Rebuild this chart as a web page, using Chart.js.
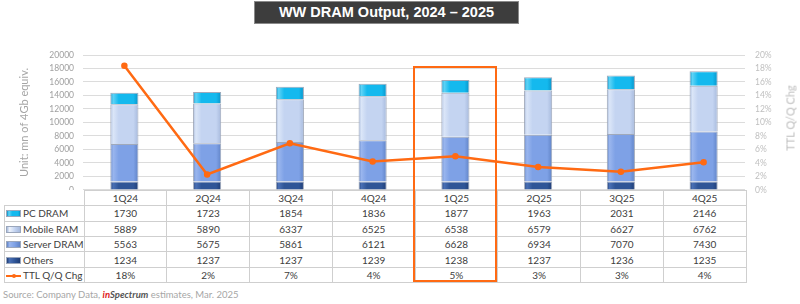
<!DOCTYPE html>
<html>
<head>
<meta charset="utf-8">
<script src="https://cdn.jsdelivr.net/npm/chart.js@4.4.1/dist/chart.umd.min.js"></script>
<style>
  body { margin: 0; background: #fff; }
  #wrap { position: relative; width: 800px; height: 304px; overflow: hidden; font-family: Lato, "Open Sans", sans-serif; }
  #title {
    position: absolute; left: 254px; top: 1px; width: 265px; height: 23px;
    background: #3d3d3d; border: 1px solid #8a8a8a; box-sizing: border-box;
    color: #fff; font: bold 14.5px "Liberation Sans", Arial, sans-serif;
    text-align: center; line-height: 21px;
  }
  #chartBox { position: absolute; left: 0; top: 0; width: 800px; height: 205px; }
  #rtitle {
    position: absolute; left: 790px; top: 118px; color: #bfbfbf; font-size: 11px;
    transform: translate(-50%, -50%) rotate(-90deg); white-space: nowrap;
  }
  #tbl {
    position: absolute; left: 4px; top: 190px; border-collapse: collapse; table-layout: fixed;
    font-size: 10px; color: #404040; background: #fff;
  }
  #tbl tr { height: 15.4px; }
  #tbl td { border: 1px solid #cfcfcf; padding: 0; text-align: center; line-height: 12px; white-space: nowrap; overflow: hidden; }
  #tbl td.lab { text-align: left; padding-left: 1px; }
  #tbl tr.head td.blank { border: none; border-right: 1px solid #cfcfcf; background: transparent; }
  #tbl tr.head { background: transparent; }
  .sw { display: inline-block; width: 15px; height: 7px; margin-right: 2px; vertical-align: -0px; box-sizing: border-box; border: 1px solid #9aa6bb; }
  .swl { display: inline-block; width: 15px; height: 7px; margin-right: 2px; position: relative; vertical-align: 0px; }
  .swl:before { content: ""; position: absolute; left: 0; right: 0; top: 3px; height: 2px; background: #ff6a13; }
  .swl:after { content: ""; position: absolute; left: 6px; top: 2px; width: 4px; height: 4px; border-radius: 2px; background: #ff6a13; }
  #hl { position: absolute; border: 2.5px solid #ff6a13; box-sizing: border-box; }
  #src { position: absolute; left: 3px; top: 289px; font-size: 9.5px; color: #a6a6a6; white-space: nowrap; }
  #src .a { color: #e0201b; font-weight: bold; font-style: italic; }
  #src .b { color: #555; font-weight: bold; font-style: italic; }
</style>
</head>
<body>
<div id="wrap">
  <div id="chartBox"><canvas id="c" width="800" height="205"></canvas></div>
  <div id="title">WW DRAM Output, 2024 – 2025</div>
  <div id="rtitle">TTL Q/Q Chg</div>
  <table id="tbl"></table>
  <div id="hl"></div>
  <div id="src">Source: Company Data, <span class="a">in</span><span class="b">Spectrum</span> estimates, Mar. 2025</div>
</div>
<script>
const quarters = ['1Q24', '2Q24', '3Q24', '4Q24', '1Q25', '2Q25', '3Q25', '4Q25'];
const pcDram = [1730, 1723, 1854, 1836, 1877, 1963, 2031, 2146];
const mobileRam = [5889, 5890, 6337, 6525, 6538, 6579, 6627, 6762];
const serverDram = [5563, 5675, 5861, 6121, 6628, 6934, 7070, 7430];
const others = [1234, 1237, 1237, 1239, 1238, 1237, 1236, 1235];
// line values (table shows them rounded)
const qoqChg = [18.4, 2.3, 6.9, 4.2, 5.0, 3.4, 2.7, 4.1];
const qoqLabels = ['18%', '2%', '7%', '4%', '5%', '3%', '3%', '4%'];
const highlightIndex = 4;

const BAR_SHARE = 0.34;

// horizontal bevel like the Excel 3D bars
function bevel(base, light, dark) {
  return ctx => {
    const chart = ctx.chart;
    const area = chart.chartArea;
    if (!area || !chart.scales.x) return base;
    const cx = chart.scales.x.getPixelForValue(ctx.dataIndex);
    const w = area.width / quarters.length * BAR_SHARE;
    const g = chart.ctx.createLinearGradient(cx - w / 2, 0, cx + w / 2, 0);
    g.addColorStop(0, dark);
    g.addColorStop(0.1, light);
    g.addColorStop(0.3, base);
    g.addColorStop(0.82, base);
    g.addColorStop(1, dark);
    return g;
  };
}

const series = [
  { label: 'Others', data: others, base: '#2f5597', light: '#4a70b5', dark: '#1f3d75' },
  { label: 'Server DRAM', data: serverDram, base: '#7ea1e6', light: '#9ab6ee', dark: '#6083c6' },
  { label: 'Mobile RAM', data: mobileRam, base: '#c4d4f1', light: '#dbe6f8', dark: '#a6b9dc' },
  { label: 'PC DRAM', data: pcDram, base: '#14b9ee', light: '#5fd3f6', dark: '#0a93c8' }
];

const datasets = series.map(s => ({
  type: 'bar',
  label: s.label,
  data: s.data,
  yAxisID: 'y',
  stack: 'dram',
  order: 2,
  backgroundColor: bevel(s.base, s.light, s.dark),
  borderColor: 'rgba(150,160,178,0.9)',
  borderWidth: 1,
  barPercentage: 1,
  categoryPercentage: BAR_SHARE
}));

datasets.push({
  type: 'line',
  label: 'TTL Q/Q Chg',
  data: qoqChg,
  yAxisID: 'y1',
  order: 0,
  borderColor: '#ff6a13',
  backgroundColor: '#ff6a13',
  borderWidth: 2.5,
  pointRadius: 2,
  pointHoverRadius: 2,
  tension: 0
});

const chart = new Chart(document.getElementById('c'), {
  data: { labels: quarters, datasets: datasets },
  options: {
    responsive: false,
    animation: false,
    layout: { padding: { top: 55, bottom: 5, left: 0, right: 0 } },
    plugins: { legend: { display: false }, tooltip: { enabled: false } },
    scales: {
      x: { display: false, stacked: true },
      y: {
        position: 'left',
        stacked: true,
        min: 0, max: 20000,
        ticks: { stepSize: 2000, autoSkip: false, color: '#a0a0a0', font: { family: 'Lato', size: 8.5 }, padding: 9, callback: v => String(v) },
        grid: { color: '#dcdcdc', drawTicks: false },
        border: { display: false },
        title: { display: true, text: 'Unit: mn of 4Gb equiv.', color: '#a6a6a6', font: { family: 'Lato', size: 11 }, padding: { top: 18, bottom: 0 } },
        afterFit: s => { s.width = 83; }
      },
      y1: {
        position: 'right',
        min: 0, max: 20,
        ticks: { stepSize: 2, autoSkip: false, color: '#bfbfbf', font: { family: 'Lato', size: 8.5 }, padding: 10, callback: v => v + '%' },
        grid: { display: false, drawTicks: false },
        border: { display: false },
        afterFit: s => { s.width = 55; }
      }
    }
  }
});

// data table under the plot, columns lined up with the x scale
function buildTable() {
  const area = chart.chartArea;
  const colW = area.width / quarters.length;
  const tbl = document.getElementById('tbl');
  tbl.style.top = area.bottom + 'px';
  let html = '<colgroup><col style="width:' + (area.left - 4) + 'px">';
  quarters.forEach(() => { html += '<col style="width:' + colW + 'px">'; });
  html += '</colgroup>';
  html += '<tr class="head"><td class="blank"></td>' + quarters.map(q => '<td>' + q + '</td>').join('') + '</tr>';
  const rows = [
    { name: 'PC DRAM', vals: pcDram, sw: 'linear-gradient(90deg,#0a93c8,#5fd3f6 15%,#14b9ee 40%,#14b9ee 85%,#0a93c8)' },
    { name: 'Mobile RAM', vals: mobileRam, sw: 'linear-gradient(90deg,#a6b9dc,#eef3fb 20%,#c4d4f1 60%,#a6b9dc)' },
    { name: 'Server DRAM', vals: serverDram, sw: 'linear-gradient(90deg,#6083c6,#9ab6ee 20%,#7ea1e6 60%,#6083c6)' },
    { name: 'Others', vals: others, sw: 'linear-gradient(90deg,#1f3d75,#4a70b5 20%,#2f5597 60%,#1f3d75)' }
  ];
  rows.forEach(r => {
    html += '<tr><td class="lab"><span class="sw" style="background:' + r.sw + '"></span>' + r.name + '</td>' +
      r.vals.map(v => '<td>' + v + '</td>').join('') + '</tr>';
  });
  html += '<tr><td class="lab"><span class="swl"></span>TTL Q/Q Chg</td>' +
    qoqLabels.map(v => '<td>' + v + '</td>').join('') + '</tr>';
  tbl.innerHTML = html;

  const hl = document.getElementById('hl');
  const cx = chart.scales.x.getPixelForValue(highlightIndex);
  hl.style.left = (cx - colW / 2 - 1) + 'px';
  hl.style.width = (colW + 1) + 'px';
  hl.style.top = '66px';
  hl.style.height = '216px';
}

buildTable();
</script>
</body>
</html>
